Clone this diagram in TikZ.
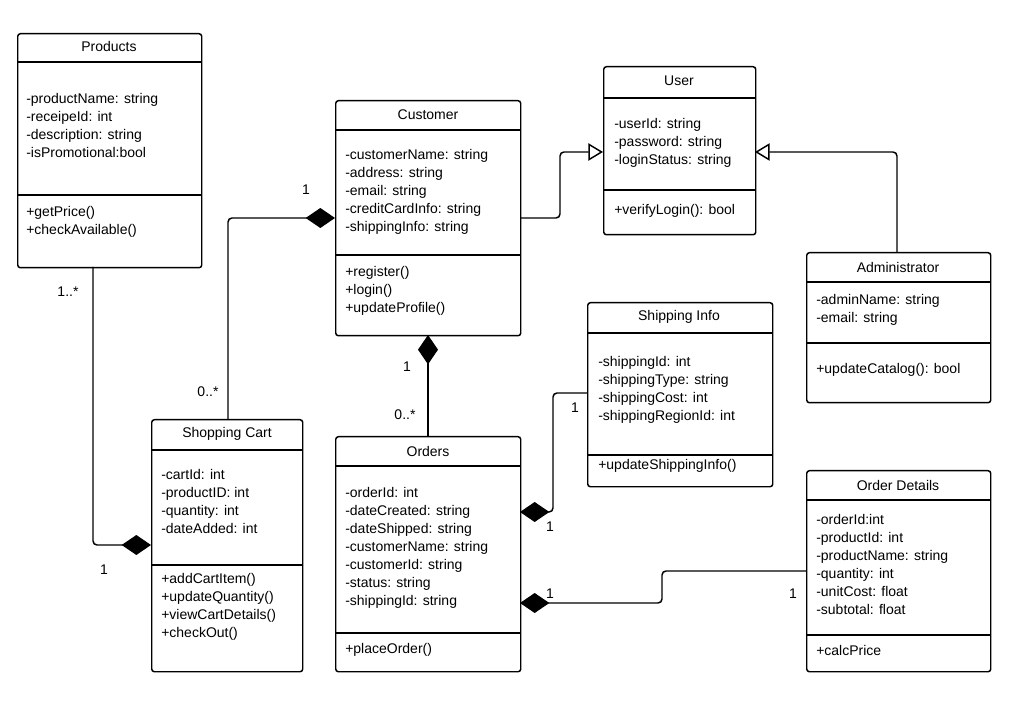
\documentclass[tikz,border=0pt]{standalone}
\usepackage{fontspec}
\setmainfont{Liberation Sans}
\usetikzlibrary{arrows.meta}
\begin{document}
\begin{tikzpicture}[x=0.75pt,y=-0.75pt,
  box/.style={draw,line width=1.1pt,rounded corners=2pt,anchor=north west,inner sep=0pt},
  txt/.style={anchor=north west,align=left,inner sep=0pt,font=\fontsize{10.5}{13.5}\selectfont},
  ttl/.style={anchor=center,inner sep=0pt,font=\fontsize{10.5}{13.5}\selectfont},
  dv/.style={line width=1.1pt},
  lbl/.style={inner sep=0pt,font=\fontsize{10.5}{13.5}\selectfont},
  con/.style={line width=1.1pt,rounded corners=3pt},
  comp/.style={con,{Diamond[length=22pt,width=15pt]}-},
  gen/.style={con,-{Triangle[open,length=11pt,width=13pt]}}]
\useasboundingbox (0,0) rectangle (1024,705);
% Products
\node[box,minimum width=184*0.75pt,minimum height=234*0.75pt] (prod) at (17,33) {};
\draw[dv] (17,62) -- (201,62); \draw[dv] (17,195) -- (201,195);
\node[ttl] (prodt) at (109,47) {Products};
\node[txt] (proda) at (26,93) {-productName: string\\-receipeId: int\\-description: string\\-isPromotional:bool};
\node[txt] (prodm) at (26,206) {+getPrice()\\+checkAvailable()};
% Customer
\node[box,minimum width=185*0.75pt,minimum height=235*0.75pt] (cust) at (335,100) {};
\draw[dv] (335,130) -- (520,130); \draw[dv] (335,255) -- (520,255);
\node[ttl] (custt) at (428,115) {Customer};
\node[txt] (custa) at (345,149) {-customerName: string\\-address: string\\-email: string\\-creditCardInfo: string\\-shippingInfo: string};
\node[txt] (custm) at (345,266) {+register()\\+login()\\+updateProfile()};
% User
\node[box,minimum width=152*0.75pt,minimum height=168*0.75pt] (user) at (603,66) {};
\draw[dv] (603,98) -- (755,98); \draw[dv] (603,190) -- (755,190);
\node[ttl] (usert) at (679,81) {User};
\node[txt] (usera) at (614,118) {-userId: string\\-password: string\\-loginStatus: string};
\node[txt] (userm) at (614,204) {+verifyLogin(): bool};
% Administrator
\node[box,minimum width=184*0.75pt,minimum height=150*0.75pt] (admin) at (806,252) {};
\draw[dv] (806,282) -- (990,282); \draw[dv] (806,343) -- (990,343);
\node[ttl] (admint) at (898,267) {Administrator};
\node[txt] (admina) at (816,294) {-adminName: string\\-email: string};
\node[txt] (adminm) at (816,363) {+updateCatalog(): bool};
% Shipping Info
\node[box,minimum width=185*0.75pt,minimum height=184*0.75pt] (ship) at (587,302) {};
\draw[dv] (587,333) -- (772,333); \draw[dv] (587,455) -- (772,455);
\node[ttl] (shipt) at (679,317) {Shipping Info};
\node[txt] (shipa) at (598,356) {-shippingId: int\\-shippingType: string\\-shippingCost: int\\-shippingRegionId: int};
\node[txt] (shipm) at (598,459) {+updateShippingInfo()};
% Shopping Cart
\node[box,minimum width=151*0.75pt,minimum height=252*0.75pt] (cart) at (151,419) {};
\draw[dv] (151,450) -- (302,450); \draw[dv] (151,565) -- (302,565);
\node[ttl] (cartt) at (227,434) {Shopping Cart};
\node[txt] (carta) at (161,469) {-cartId: int\\-productID: int\\-quantity: int\\-dateAdded: int};
\node[txt] (cartm) at (161,573) {+addCartItem()\\+updateQuantity()\\+viewCartDetails()\\+checkOut()};
% Orders
\node[box,minimum width=185*0.75pt,minimum height=235*0.75pt] (ord) at (335,436) {};
\draw[dv] (335,466) -- (520,466); \draw[dv] (335,633) -- (520,633);
\node[ttl] (ordt) at (428,451) {Orders};
\node[txt] (orda) at (345,487) {-orderId: int\\-dateCreated: string\\-dateShipped: string\\-customerName: string\\-customerId: string\\-status: string\\-shippingId: string};
\node[txt] (ordm) at (345,643) {+placeOrder()};
% Order Details
\node[box,minimum width=184*0.75pt,minimum height=201*0.75pt] (od) at (806,470) {};
\draw[dv] (806,500) -- (990,500); \draw[dv] (806,635) -- (990,635);
\node[ttl] (odt) at (898,485) {Order Details};
\node[txt] (oda) at (816,514) {-orderId:int\\-productId: int\\-productName: string\\-quantity: int\\-unitCost: float\\-subtotal: float};
\node[txt] (odm) at (816,645) {+calcPrice};
% connectors
\coordinate (c1) at (prod.south west -| 93,0);
\draw[comp] (cart.north west |- 0,545) -- (93,545) -- (93,267);
\draw[comp] (335,218) -- (228,218) -- (228,419);
\draw[comp] (428,335) -- (428,436);
\draw[gen] (520,218) -- (560,218) -- (560,152) -- (603,152);
\draw[gen] (897,252) -- (897,152) -- (755,152);
\draw[comp] (520,512) -- (553,512) -- (553,393) -- (587,393);
\draw[comp] (520,603) -- (662,603) -- (662,571) -- (806,571);
% labels
\node[lbl] (l1) at (68,292) {1..*};
\node[lbl] (l2) at (104,570) {1};
\node[lbl] (l3) at (306,190) {1};
\node[lbl] (l4) at (208,392) {0..*};
\node[lbl] (l5) at (407,367) {1};
\node[lbl] (l6) at (405,415) {0..*};
\node[lbl] (l7) at (575,408) {1};
\node[lbl] (l8) at (550,527) {1};
\node[lbl] (l9) at (550,594) {1};
\node[lbl] (l10) at (793,594) {1};
\end{tikzpicture}
\end{document}
